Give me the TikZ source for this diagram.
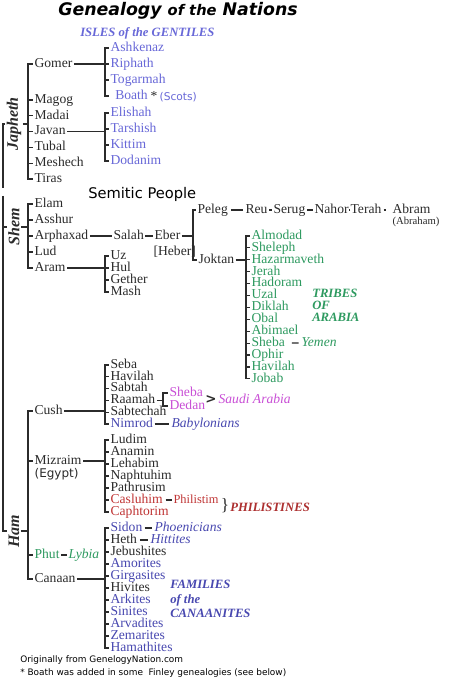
\documentclass[tikz,border=0pt]{standalone}
\usepackage{fontspec}
\setmainfont{Liberation Serif}
\setsansfont{DejaVu Sans}
\definecolor{ink}{HTML}{2B2B2B}
\definecolor{isle}{HTML}{6868D8}
\definecolor{arabia}{HTML}{2E9A60}
\definecolor{saudi}{HTML}{C94FD6}
\definecolor{phil}{HTML}{C03535}
\definecolor{canaan}{HTML}{4848B0}
\newcommand{\branch}[3]{%
  \draw[kin] (#1) -- (#2 |- #1);
  \foreach \kid in {#3} \draw[kin] (#2 |- #1) |- (\kid.west);}
\tikzset{
  kin/.style={draw=ink, line width=0.9pt},
  son/.style={anchor=west, inner sep=1pt, text height=7pt, text depth=2pt,
    font=\fontsize{10.2}{12}\selectfont, text=ink},
  gloss/.style={son, font=\fontsize{10.2}{12}\selectfont\itshape},
  people/.style={anchor=west, align=left, inner sep=0pt,
    font=\fontsize{9.5}{11}\selectfont\bfseries\itshape},
  patriarch/.style={rotate=90, inner sep=1pt, text=ink,
    font=\fontsize{12}{12}\selectfont\bfseries\itshape},
  aside/.style={anchor=west, inner sep=0pt, font=\sffamily\fontsize{6.7}{8}\selectfont, text=black}
}
\begin{document}
\begin{tikzpicture}[x=0.75pt, y=-0.75pt]
\useasboundingbox[fill=white] (0,0) rectangle (464,680);
\node[font=\sffamily\bfseries\itshape\fontsize{13}{14}\selectfont, text=black] (title) at (178,11)
  {Genealogy {\fontsize{11}{12}\selectfont of the} Nations};
\node[people, text=isle] (isles) at (80,33) {ISLES of the GENTILES};
\coordinate (root) at (28,0);
\coordinate (gsbar) at (105,0);
\coordinate (ebar) at (193,0);
\coordinate (kbar) at (246,0);
\coordinate (rbar) at (163,0);
\coordinate (gap1) at (3,188);
\coordinate (gap2) at (3,196);

% Japheth
\node[patriarch] (japheth) at (14,124) {Japheth};
\node[son] (gomer) at (33,64) {Gomer};
\foreach \nm/\txt [count=\i from 0] in {magog/Magog,madai/Madai,javan/Javan,tubal/Tubal,meshech/Meshech,tiras/Tiras}
  \node[son] (\nm) at (33,100+15.8*\i) {\txt};
\foreach \nm/\txt [count=\i from 0] in {ashkenaz/Ashkenaz,riphath/Riphath,togarmah/Togarmah}
  \node[son, text=isle] (\nm) at (109,48+16*\i) {\txt};
\node[son, text=isle] (boath) at (109,96) {\hspace{3.5pt}Boath};
\node[son] (scots) at (149,97) {*\,{\sffamily\fontsize{8}{10}\selectfont\color{isle}(Scots)}};
\foreach \nm/\txt [count=\i from 0] in {elishah/Elishah,tarshish/Tarshish,kittim/Kittim,dodanim/Dodanim}
  \node[son, text=isle] (\nm) at (109,113+16*\i) {\txt};
\draw[kin] (japheth.north) -| (gap1);
\branch{japheth.south}{root}{gomer,magog,madai,javan,tubal,meshech,tiras}
\branch{gomer.east}{gsbar}{ashkenaz,riphath,togarmah,boath}
\branch{javan.east}{gsbar}{elishah,tarshish,kittim,dodanim}

% Shem
\node[anchor=west, inner sep=0pt, font=\sffamily\fontsize{11}{12}\selectfont] (semitic) at (88,194) {Semitic People};
\node[patriarch] (shem) at (14,227) {Shem};
\foreach \nm/\txt [count=\i from 0] in {elam/Elam,asshur/Asshur,arphaxad/Arphaxad,lud/Lud,aram/Aram}
  \node[son] (\nm) at (33,204+16*\i) {\txt};
\node[son] (salah) at (112,236) {Salah};
\node[son] (eber) at (153,236) {Eber};
\node[son] (heber) at (152,252) {[Heber]};
\node[son] (peleg) at (196,210) {Peleg};
\node[son] (reu) at (244,210) {Reu};
\node[son] (serug) at (272,210) {Serug};
\node[son] (nahor) at (313,210) {Nahor};
\node[son] (terah) at (349,210) {Terah};
\node[son] (abram) at (391,210) {Abram};
\node[son, font=\fontsize{8}{9}\selectfont] (abraham) at (391,221) {(Abraham)};
\node[son] (joktan) at (197,260) {Joktan};
\foreach \nm/\txt [count=\i from 0] in {almodad/Almodad,sheleph/Sheleph,hazarmaveth/Hazarmaveth,jerah/Jerah,hadoram/Hadoram,uzal/Uzal,diklah/Diklah,obal/Obal,abimael/Abimael,jsheba/Sheba,ophir/Ophir,jhavilah/Havilah,jobab/Jobab}
  \node[son, text=arabia] (\nm) at (250,236+11.9*\i) {\txt};
\node[gloss, text=arabia] (yemen) at (300,343) {Yemen};
\node[people, text=arabia, font=\fontsize{9.5}{9}\selectfont\bfseries\itshape] (tribes) at (312,305) {TRIBES\\OF\\ARABIA};
\foreach \nm/\txt [count=\i from 0] in {uz/Uz,hul/Hul,gether/Gether,mash/Mash}
  \node[son] (\nm) at (109,256+12*\i) {\txt};
\draw[kin] (shem.north) -- (shem.north -| gap2);
\branch{shem.south}{root}{elam,asshur,arphaxad,lud,aram}
\draw[kin] (arphaxad.east) -- (salah.west);
\draw[kin] (salah.east) -- (eber.west);
\branch{eber.east}{ebar}{peleg,joktan}
\draw[kin, shorten <=1pt, shorten >=1pt] (peleg.east) -- (reu.west);
\draw[kin] (reu.east) -- (serug.west);
\draw[kin] (serug.east) -- (nahor.west);
\draw[kin] (nahor.east) -- (terah.west);
\draw[kin, shorten <=0.5pt, shorten >=4pt] (terah.east) -- (abram.west);
\branch{joktan.east}{kbar}{almodad,sheleph,hazarmaveth,jerah,hadoram,uzal,diklah,obal,abimael,jsheba,ophir,jhavilah,jobab}
\draw[kin, shorten <=4pt, shorten >=1pt] (jsheba.east) -- (yemen.west);
\branch{aram.east}{gsbar}{uz,hul,gether,mash}

% Ham
\node[patriarch] (ham) at (14,531) {Ham};
\node[son] (cush) at (33,411) {Cush};
\node[son] (mizraim) at (33,461) {Mizraim};
\node[son, font=\sffamily\fontsize{9}{10}\selectfont] (egypt) at (33,474) {(Egypt)};
\node[son, text=arabia] (phut) at (33,555) {Phut};
\node[gloss, text=arabia] (lybia) at (67,555) {Lybia};
\node[son] (canaan) at (33,579) {Canaan};
\foreach \nm/\txt/\col [count=\i from 0] in {seba/Seba/ink,chavilah/Havilah/ink,sabtah/Sabtah/ink,raamah/Raamah/ink,sabtechah/Sabtechah/ink,nimrod/Nimrod/canaan}
  \node[son, text=\col] (\nm) at (109,365+11.8*\i) {\txt};
\node[son, text=saudi] (rsheba) at (168,393) {Sheba};
\node[son, text=saudi] (dedan) at (168,406) {Dedan};
\node[font=\sffamily\bfseries\fontsize{10}{12}\selectfont, text=ink, inner sep=0pt] (sabrace) at (211,400) {>};
\node[gloss, text=saudi] (saudi) at (217,400) {Saudi Arabia};
\node[gloss, text=canaan] (babylon) at (170,424) {Babylonians};
\foreach \nm/\txt/\col [count=\i from 0] in {ludim/Ludim/ink,anamin/Anamin/ink,lehabim/Lehabim/ink,naphtuhim/Naphtuhim/ink,pathrusim/Pathrusim/ink,casluhim/Casluhim/phil,caphtorim/Caphtorim/phil}
  \node[son, text=\col] (\nm) at (109,440+12*\i) {\txt};
\node[son, text=phil, font=\fontsize{9.3}{11}\selectfont] (philistim) at (172,500) {Philistim};
\node[font=\fontsize{13}{14}\selectfont, text=ink, inner sep=0pt] (philbrace) at (225,506) {\}};
\node[people, text=phil!90!black] (philistines) at (230,507) {PHILISTINES};
\foreach \nm/\txt/\col [count=\i from 0] in {sidon/Sidon/canaan,heth/Heth/ink,jebusites/Jebushites/ink,amorites/Amorites/canaan,girgasites/Girgasites/canaan,hivites/Hivites/ink,arkites/Arkites/canaan,sinites/Sinites/canaan,arvadites/Arvadites/canaan,zemarites/Zemarites/canaan,hamathites/Hamathites/canaan}
  \node[son, text=\col] (\nm) at (109,528+12*\i) {\txt};
\node[gloss, text=canaan] (phoenicians) at (153,528) {Phoenicians};
\node[gloss, text=canaan] (hittites) at (149,540) {Hittites};
\node[people, text=canaan] (families) at (170,599) {FAMILIES\\of the\\CANAANITES};
\draw[kin] (gap2) |- (ham.north);
\branch{ham.south}{root}{cush,mizraim,phut,canaan}
\branch{cush.east}{gsbar}{seba,chavilah,sabtah,raamah,sabtechah,nimrod}
\branch{raamah.east}{rbar}{rsheba,dedan}
\draw[kin, shorten >=1pt] (nimrod.east) -- (babylon.west);
\branch{mizraim.east}{gsbar}{ludim,anamin,lehabim,naphtuhim,pathrusim,casluhim,caphtorim}
\draw[kin, shorten <=1pt] (casluhim.east) -- (philistim.west);
\draw[kin] (phut.east) -- (lybia.west);
\branch{canaan.east}{gsbar}{sidon,heth,jebusites,amorites,girgasites,hivites,arkites,sinites,arvadites,zemarites,hamathites}
\draw[kin, shorten <=0.5pt, shorten >=1pt] (sidon.east) -- (phoenicians.west);
\draw[kin, shorten <=1pt, shorten >=1pt] (heth.east) -- (hittites.west);

\node[aside] (origin) at (20,660) {Originally from GenelogyNation.com};
\node[aside] (boathnote) at (20,673) {* Boath was added in some~ Finley genealogies (see below)};
\end{tikzpicture}
\end{document}
